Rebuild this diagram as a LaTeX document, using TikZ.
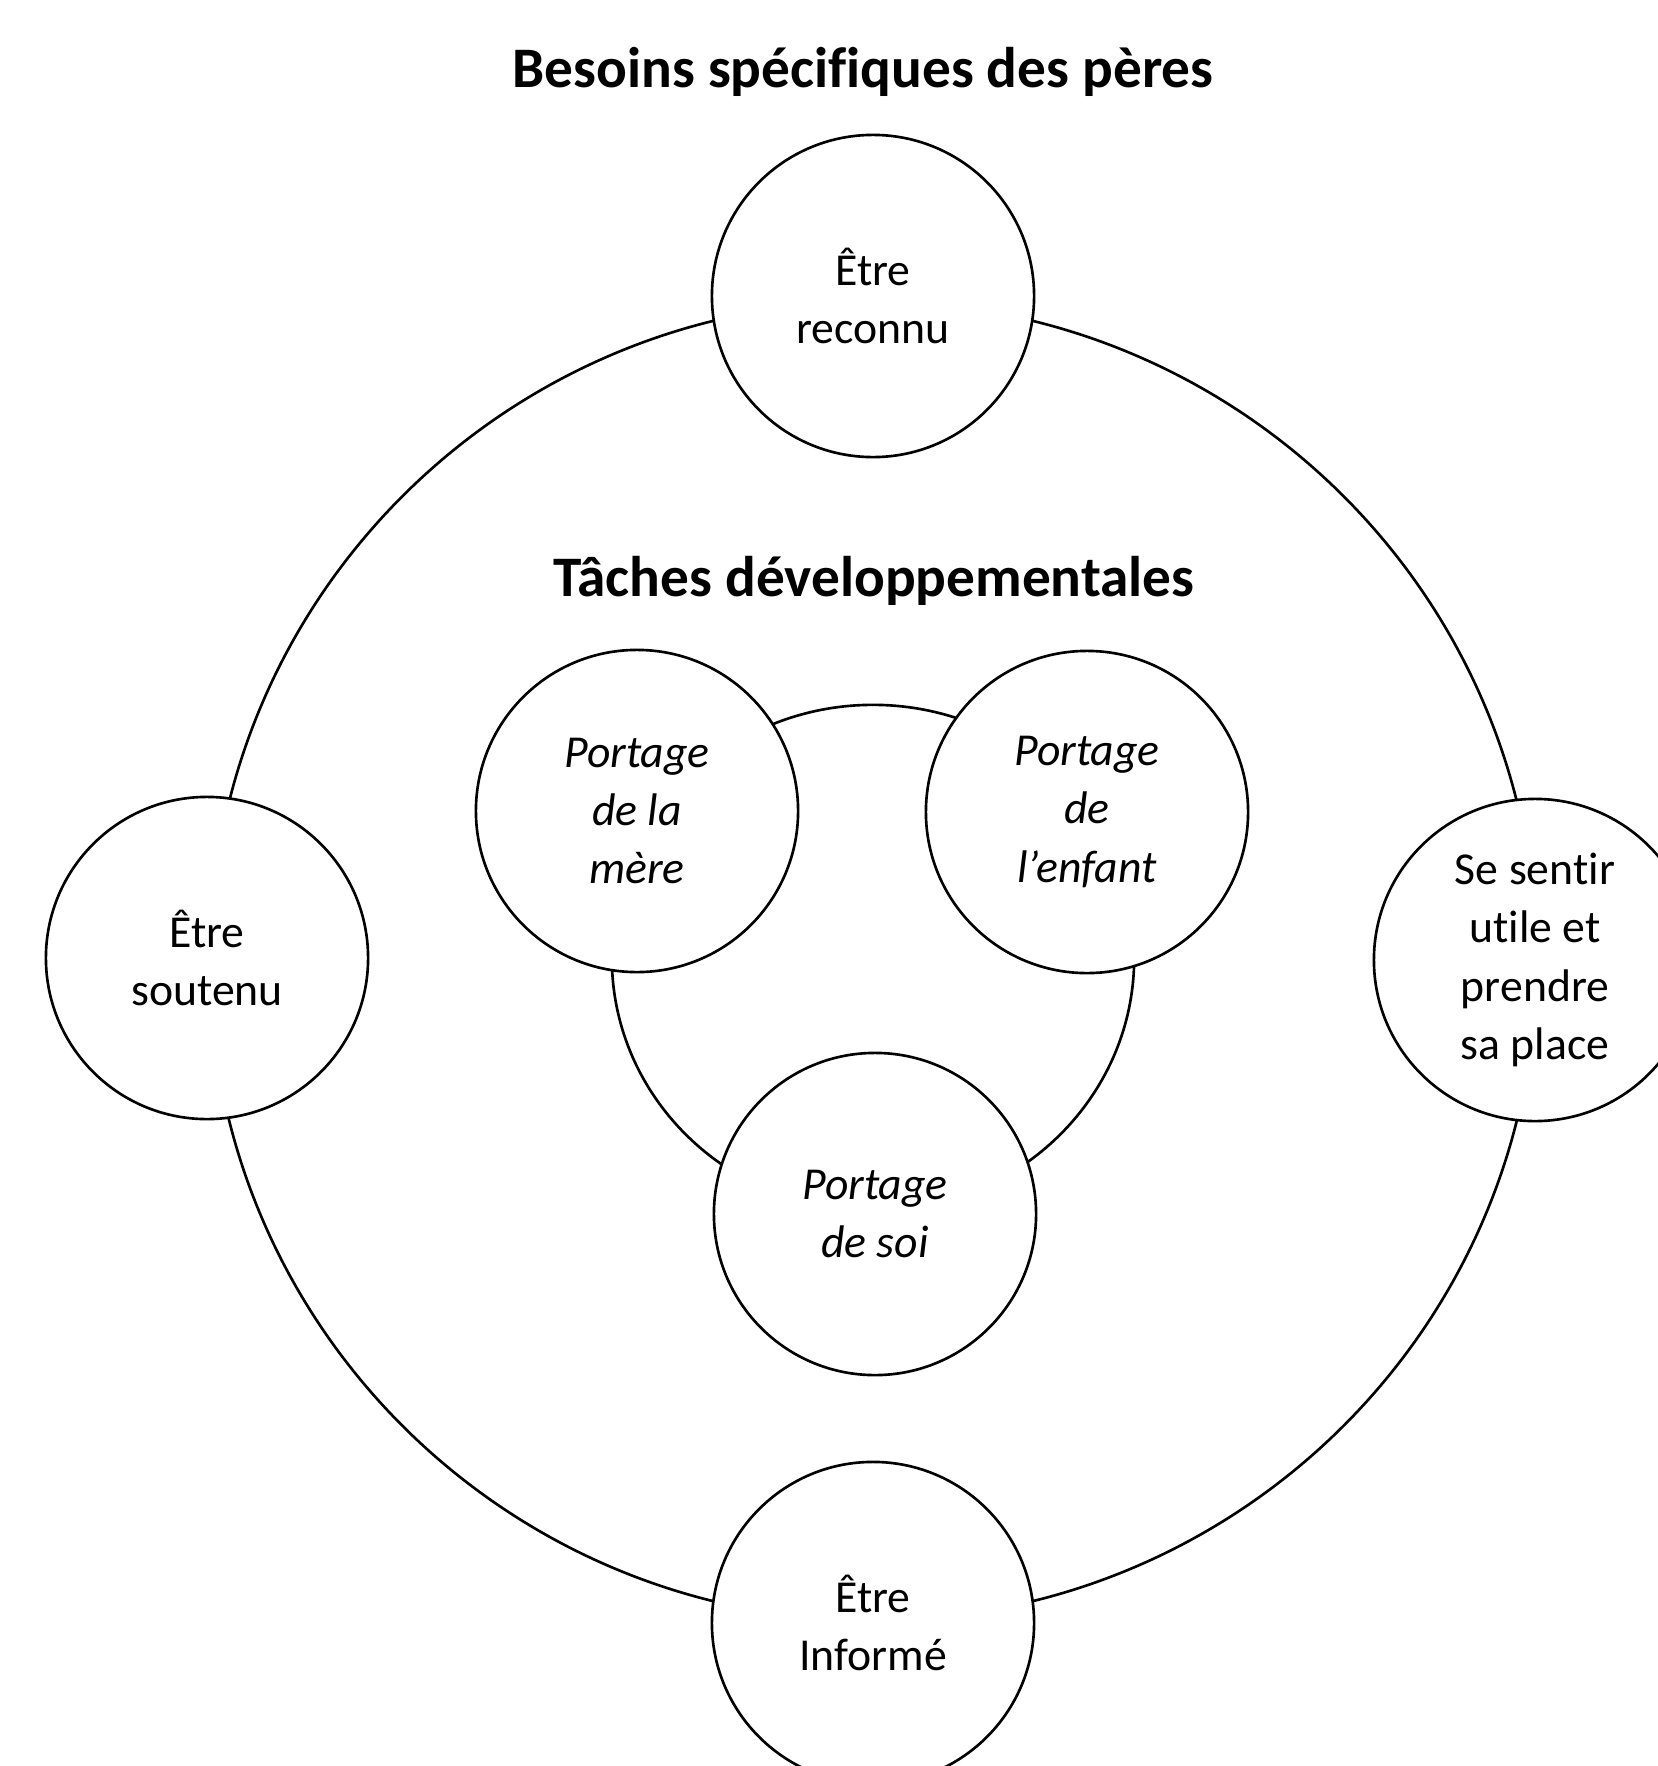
\documentclass[tikz,border=0pt]{standalone}
\usepackage{fontspec}
\setmainfont{Carlito}[Ligatures=NoCommon]
\usetikzlibrary{shapes.geometric}
\begin{document}
\begin{tikzpicture}[x=0.01cm,y=-0.01cm,
  ring/.style={ellipse, draw, line width=0.75pt, inner sep=0pt},
  need/.style={circle, draw, fill=white, line width=0.75pt, minimum size=3.22cm, inner sep=0pt, align=center, font=\fontsize{13}{16.6}\selectfont},
  task/.style={need, font=\fontsize{13}{16.6}\selectfont\itshape},
  heading/.style={font=\fontsize{16.3}{20}\selectfont\bfseries, inner sep=0pt, anchor=base}]
\useasboundingbox (0,0) rectangle (1658,1766);
\clip (0,0) rectangle (1658,1766);
\fill[white] (0,0) rectangle (1658,1766);
% rings
\node[ring, minimum width=13.26cm, minimum height=13.18cm] (outer) at (873,961) {};
\node[ring, minimum width=5.22cm, minimum height=5.06cm] (inner) at (873,958) {};
% titles
\node[heading] (t1) at (863,87) {Besoins spécifiques des pères};
\node[heading] (t2) at (874,596) {Tâches développementales};
% needs
\node[need] (top) at (873,296) {Être\\reconnu};
\node[need] (left) at (207,958) {Être\\soutenu};
\node[need] (right) at (1535,960) {Se sentir\\utile et\\prendre\\sa place};
\node[need] (bottom) at (873,1623) {Être\\Informé};
% tasks
\node[task] (mere) at (637,811) {Portage\\de la\\mère};
\node[task] (enfant) at (1087,812) {Portage\\de\\l’enfant};
\node[task] (soi) at (875,1214) {Portage\\de soi};
\end{tikzpicture}
\end{document}
